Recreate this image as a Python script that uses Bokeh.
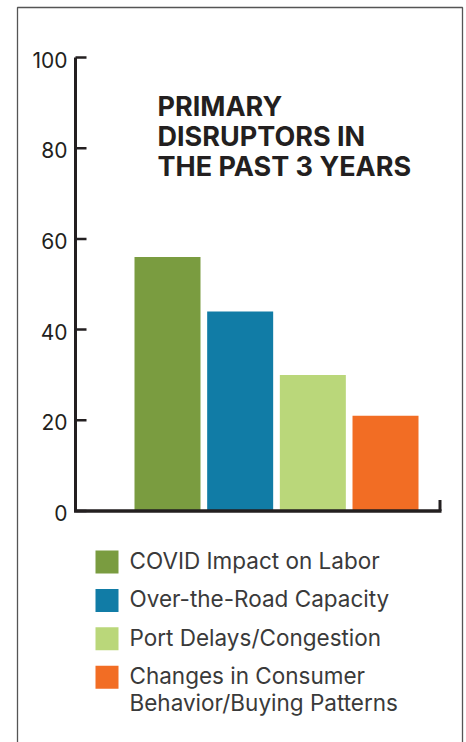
from bokeh.plotting import figure
from bokeh.models import Range1d
from bokeh.core.properties import value
from bokeh.embed import file_html
from bokeh.resources import INLINE

# --- data -------------------------------------------------------------
categories = [
    "COVID Impact on Labor",
    "Over-the-Road Capacity",
    "Port Delays/Congestion",
    "Changes in Consumer Behavior/Buying Patterns",
]
legend_lines = [
    ["COVID Impact on Labor"],
    ["Over-the-Road Capacity"],
    ["Port Delays/Congestion"],
    ["Changes in Consumer", "Behavior/Buying Patterns"],
]
shares = [56, 44, 30, 21]
bar_colors = ["#7a9c40", "#117ca6", "#bad77a", "#f26d24"]
y_ticks = [0, 20, 40, 60, 80, 100]
title_lines = ["PRIMARY", "DISRUPTORS IN", "THE PAST 3 YEARS"]

# --- layout -----------------------------------------------------------
W, H = 466, 742
INK = "#231f20"
FONT = "Inter"

base_px = 510.5          # pixel row of value 0
px_per_unit = 4.535      # pixels per percentage point
bar_px0 = 167.0          # pixel column of the first bar centre
bar_step = 72.67         # pixels between bar centres
bar_w_px = 66.0

axis_x = 75.0
axis_end_x = 441.0
tick_len = 11.0

# main ranges are pixel-like (y grows downward) for the decorations
p = figure(
    width=W, height=H,
    x_range=Range1d(0, W), y_range=Range1d(H, 0),
    x_axis_location=None, y_axis_location=None,
    output_backend="svg", toolbar_location=None,
    min_border=0,
)
p.grid.visible = False
p.outline_line_color = None
p.background_fill_color = "white"
p.border_fill_color = "white"

# value and category scales for the data marks
p.extra_y_ranges = {
    "val": Range1d((base_px - H) / px_per_unit, base_px / px_per_unit)
}
cat_start = 1 - bar_px0 / bar_step
p.extra_x_ranges = {"cat": Range1d(cat_start, cat_start + W / bar_step)}

# frame around the panel
p.line([17, 17, 462, 462], [H, 7, 7, H], line_color="#555555", line_width=1.3)

# bars
positions = list(range(1, len(shares) + 1))
p.vbar(
    x=positions, top=shares, bottom=0, width=bar_w_px / bar_step,
    fill_color=bar_colors, line_color=None,
    x_range_name="cat", y_range_name="val",
)

# y axis: spine, inward ticks and labels
p.segment(x0=[axis_x], y0=[0], x1=[axis_x], y1=[max(y_ticks)],
          line_color=INK, line_width=3, y_range_name="val")
p.segment(x0=[axis_x] * len(y_ticks), y0=y_ticks,
          x1=[axis_x + tick_len] * len(y_ticks), y1=y_ticks,
          line_color=INK, line_width=2.5, y_range_name="val")
p.text(x=[axis_x - 8] * len(y_ticks), y=y_ticks, text=[str(t) for t in y_ticks],
       text_font=value(FONT), text_font_size="21px", text_color=INK,
       text_align="right", text_baseline="middle", y_offset=2,
       y_range_name="val")

# x axis: baseline with an upturned end
p.segment(x0=[axis_x - 1.5], y0=[0], x1=[axis_end_x], y1=[0],
          line_color=INK, line_width=3.5, y_range_name="val")
p.segment(x0=[axis_end_x - 1.5], y0=[0], x1=[axis_end_x - 1.5],
          y1=[tick_len / px_per_unit],
          line_color=INK, line_width=3, y_range_name="val")

# title
p.text(x=[157] * len(title_lines), y=[106 + 30 * i for i in range(len(title_lines))],
       text=title_lines, text_font=value(FONT), text_font_style="bold",
       text_font_size="27px", text_color=INK,
       text_align="left", text_baseline="middle")

# legend
sw_y = [561.5 + 38.4 * i for i in range(len(categories))]
p.scatter(x=[106.5] * len(categories), y=sw_y, marker="square", size=23,
          fill_color=bar_colors, line_color=None)
lx, ly, lt = [], [], []
for i, lines in enumerate(legend_lines):
    for j, line in enumerate(lines):
        lx.append(129)
        ly.append(sw_y[i] - 1.5 + 26.7 * j)
        lt.append(line)
p.text(x=lx, y=ly, text=lt, text_font=value(FONT), text_font_size="22.5px",
       text_color="#3a3a3a", text_align="left", text_baseline="middle")

open("out.html", "w").write(file_html(p, INLINE))
